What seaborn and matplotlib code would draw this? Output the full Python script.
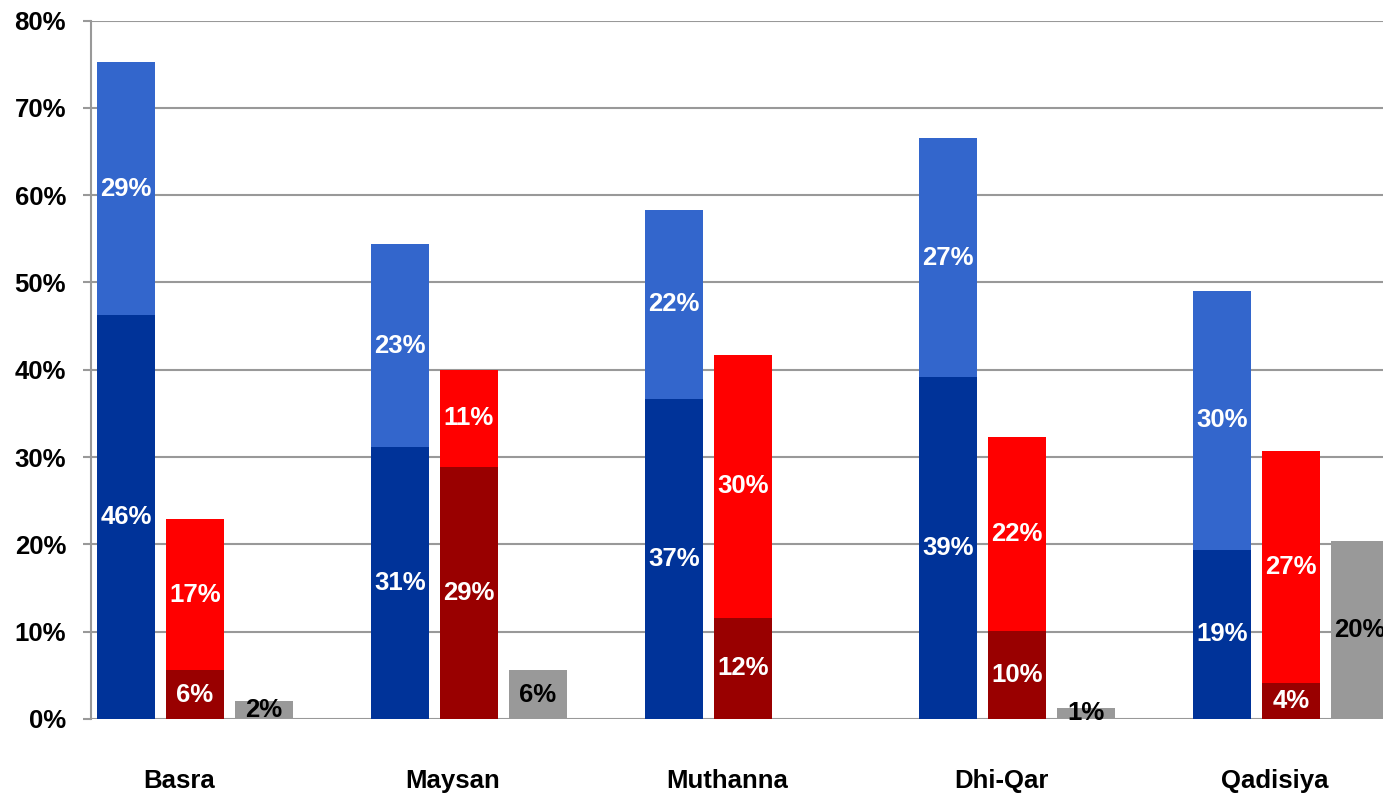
import numpy as np
import pandas as pd
import matplotlib
matplotlib.use("Agg")
import matplotlib.pyplot as plt
import seaborn as sns

# ---- data (percent) ----
regions = ["Basra", "Maysan", "Muthanna", "Dhi-Qar", "Qadisiya"]
blue_low = [46.3, 31.1, 36.7, 39.2, 19.4]
blue_high = [28.9, 23.3, 21.6, 27.3, 29.6]
red_low = [5.6, 28.9, 11.6, 10.1, 4.1]
red_high = [17.3, 11.1, 30.1, 22.2, 26.6]
gray_vals = [2.1, 5.6, 0.0, 1.3, 20.4]
yticks = [0, 10, 20, 30, 40, 50, 60, 70, 80]

sns.set_style("white")
plt.rcParams["font.family"] = ["Liberation Sans", "DejaVu Sans"]
plt.rcParams["font.weight"] = "bold"
plt.rcParams["text.color"] = "black"

W, H = 1383, 794
fig = plt.figure(figsize=(W / 100, H / 100), dpi=100)
ax = fig.add_axes([91 / W, 1 - 719 / H, (W - 91) / W, (719 - 20.5) / H])

df = pd.DataFrame({"region": regions, "bl": blue_low, "bh": blue_high,
                   "rl": red_low, "rh": red_high, "g": gray_vals})
x = np.arange(len(df))
bw = 0.21
off_b, off_r, off_g = -0.1937, 0.058, 0.310

c_dblue, c_lblue = "#003399", "#3366CC"
c_dred, c_red = "#990000", "#FF0000"
c_gray = "#999999"

layers = [
    (off_b, df["bl"], 0, c_dblue, "white"),
    (off_b, df["bh"], df["bl"], c_lblue, "white"),
    (off_r, df["rl"], 0, c_dred, "white"),
    (off_r, df["rh"], df["rl"], c_red, "white"),
    (off_g, df["g"], 0, c_gray, "black"),
]

fs = 18.5
for off, vals, bottom, col, tcol in layers:
    bottoms = np.zeros(len(vals)) + np.asarray(bottom, dtype=float)
    vals = np.asarray(vals, dtype=float)
    ax.bar(x + off, vals, width=bw, bottom=bottoms, color=col,
           linewidth=0, zorder=3)
    for xi, v, b in zip(x + off, vals, bottoms):
        if v <= 0:
            continue
        ax.text(xi, b + v / 2, f"{round(v):.0f}%", ha="center", va="center",
                color=tcol, fontsize=fs, fontweight="bold", zorder=4,
                clip_on=False)

ax.set_ylim(0, 80)
ax.set_xlim(-0.321, 4.394)
ax.set_yticks(yticks)
ax.set_yticklabels([f"{t}%" for t in yticks])
ax.set_xticks(x)
ax.set_xticklabels(regions)

ax.yaxis.grid(True, color="#999999", linewidth=1.5, zorder=0)
ax.set_axisbelow(True)
for s in ["top", "right", "bottom"]:
    ax.spines[s].set_visible(False)
ax.spines["left"].set_color("#999999")
ax.spines["left"].set_linewidth(1.5)

ax.tick_params(axis="y", which="major", length=6, width=1.5, color="#999999",
               pad=12, labelsize=fs, left=True, labelcolor="black")
ax.tick_params(axis="x", length=0, pad=36, labelsize=fs, labelcolor="black")
for lab in ax.get_xticklabels() + ax.get_yticklabels():
    lab.set_fontweight("bold")

ax.set_xlabel("")
ax.set_ylabel("")
fig.savefig("out.png", dpi=100, facecolor="white")
